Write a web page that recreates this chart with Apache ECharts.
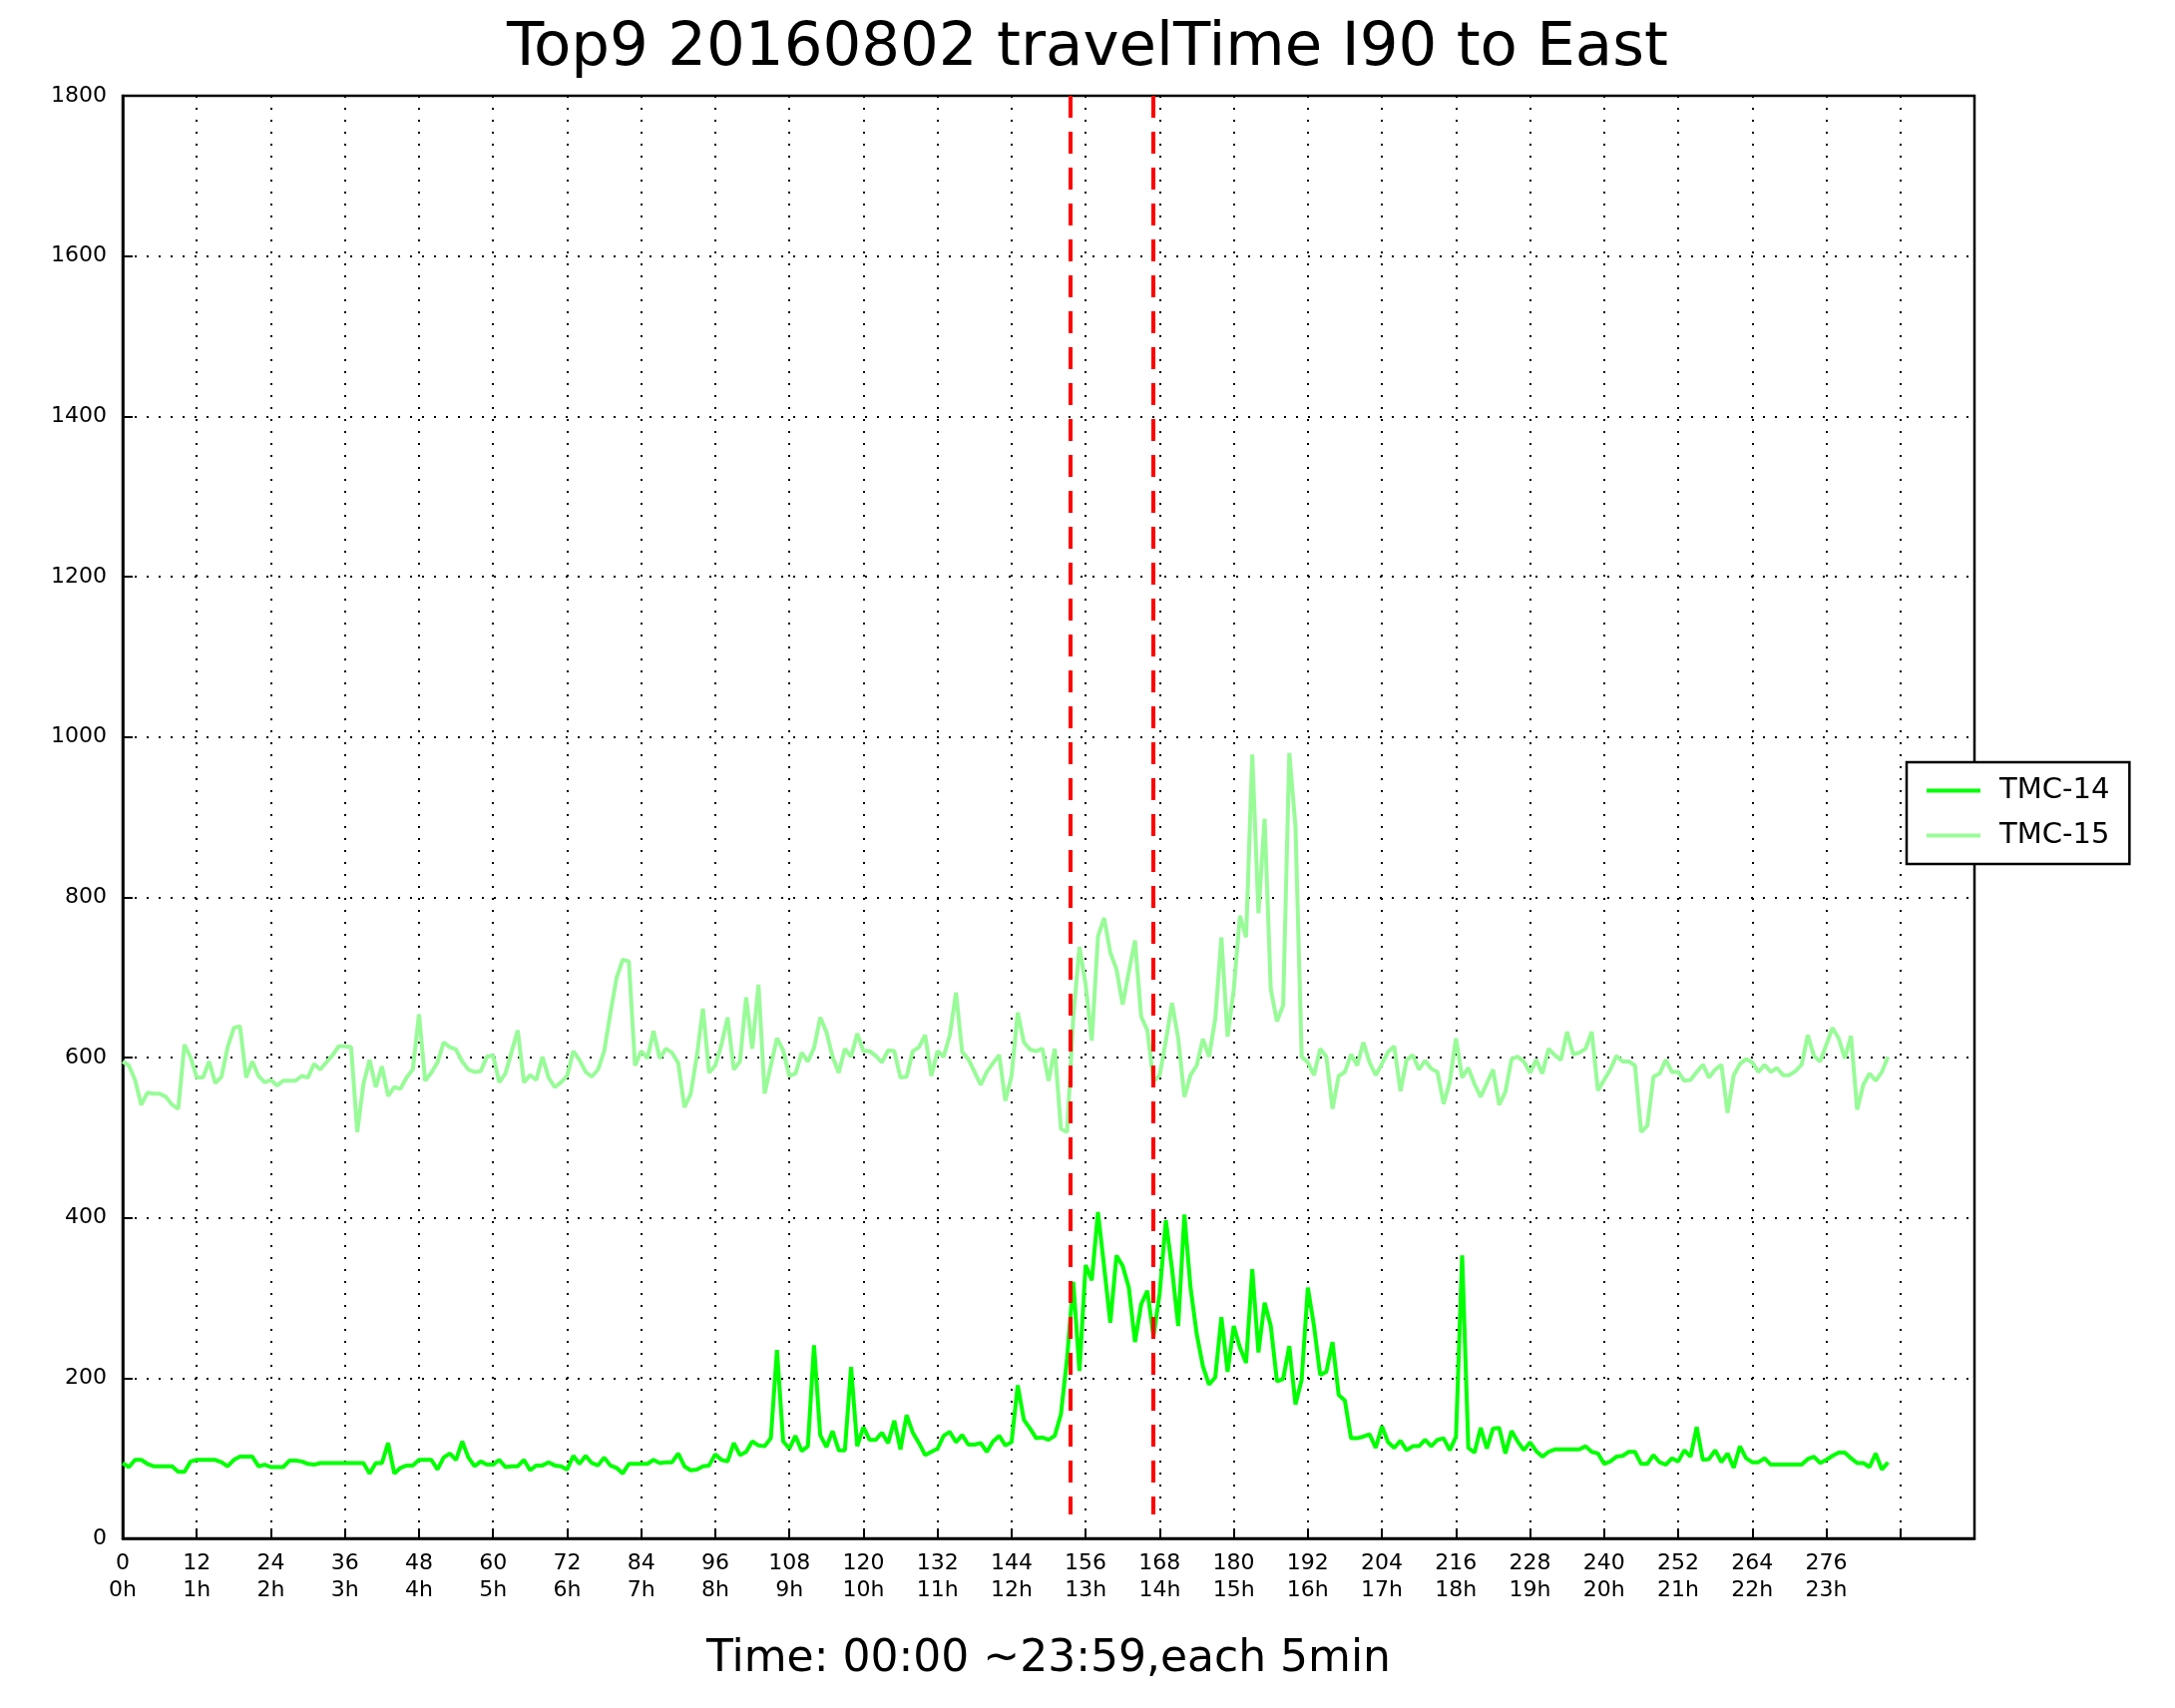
<!DOCTYPE html>
<html>
<head>
<meta charset="utf-8">
<script src="https://cdn.jsdelivr.net/npm/echarts@6/dist/echarts.min.js"></script>
<style>
html, body { margin: 0; padding: 0; background: #fff; }
#chart { width: 2180px; height: 1712px; }
</style>
</head>
<body>
<div id="chart"></div>
<script>
// 5-minute slots, travel time per slot
var tmc14 = [
	94,89,98,98,93,90,90,90,90,83,83,96,
	98,98,98,98,95,90,98,102,102,102,90,92,
	89,89,89,97,97,96,93,92,94,94,94,94,
	94,94,94,94,81,94,94,119,81,88,91,91,
	98,98,98,86,101,106,98,121,101,90,96,92,
	92,98,89,90,90,98,85,91,91,95,91,90,
	86,103,93,103,94,91,101,91,88,81,93,93,
	93,93,98,94,95,95,106,90,85,86,90,91,
	105,98,96,119,104,108,121,116,115,125,235,121,
	112,128,109,115,241,129,114,134,110,110,214,115,
	139,123,123,132,119,147,111,154,132,119,104,108,
	112,128,133,120,129,117,117,119,108,121,128,116,
	120,191,148,137,125,126,123,128,155,225,320,209,
	341,322,407,339,269,353,340,313,245,292,309,252,
	306,397,336,265,404,313,255,215,192,201,276,208,
	265,238,219,336,232,294,265,196,199,240,167,198,
	313,265,204,208,245,179,172,125,125,127,130,113,
	140,120,113,122,110,115,115,123,115,123,125,110,
	127,353,113,107,138,112,137,138,106,134,121,110,
	120,109,102,108,111,111,111,111,111,115,108,106,
	93,96,102,103,108,108,93,93,104,95,92,100,
	96,110,102,139,98,99,110,95,106,88,115,100,
	95,95,100,92,92,92,92,92,92,99,102,94,
	98,103,107,107,100,94,94,89,106,86,95
];
var tmc15 = [
	595,590,572,541,556,555,555,551,541,536,616,600,
	575,575,595,568,576,613,637,639,575,595,577,569,
	572,565,571,571,571,577,575,592,585,594,603,614,
	614,613,507,567,597,563,589,552,563,561,575,585,
	654,571,581,594,619,613,610,595,585,582,583,601,
	603,569,580,607,634,569,578,572,601,575,563,569,
	577,608,597,582,576,585,608,655,699,722,720,590,
	608,599,633,599,611,606,593,538,554,601,661,581,
	590,616,650,585,595,675,611,691,555,590,624,609,
	577,580,606,595,612,650,632,601,581,611,601,630,
	608,608,602,594,609,608,575,576,608,613,628,577,
	608,601,628,681,607,598,582,566,582,593,603,546,
	577,656,619,610,608,611,571,611,511,507,650,738,
	691,621,751,774,731,710,666,707,746,651,634,570,
	578,621,668,624,551,578,590,623,601,648,750,626,
	685,777,750,978,780,898,685,645,665,980,888,601,
	594,578,611,601,536,577,582,604,590,619,594,578,
	592,607,614,558,597,603,585,596,586,582,542,570,
	624,575,587,567,551,568,585,541,557,598,601,595,
	581,597,580,611,603,597,632,604,606,611,632,559,
	572,585,602,595,595,590,507,515,576,580,597,582,
	582,571,572,582,591,575,585,591,531,578,592,598,
	594,582,591,582,587,578,578,583,591,628,602,595,
	616,637,624,599,627,535,566,580,571,582,601
];
var xTicks = [0,12,24,36,48,60,72,84,96,108,120,132,144,156,168,180,192,204,216,228,240,252,264,276];
var yTicks = [0,200,400,600,800,1000,1200,1400,1600,1800];
var markX = [153.5, 167];

(function(){
	var font = 'DejaVu Sans';
	var pts14 = [], pts15 = [];
	for (var i = 0; i < tmc14.length; i++) pts14.push([i, tmc14[i]]);
	for (var j = 0; j < tmc15.length; j++) pts15.push([j, tmc15[j]]);

	var dash = [];
	for (var k = 0; k < markX.length; k++) {
		dash.push([{coord: [markX[k], 1800]}, {coord: [markX[k], 30]}]);
	}

	var axisLine = {show: true, lineStyle: {color: '#000', width: 2.5}};
	var tickIn = {show: true, inside: true, length: 10, lineStyle: {color: '#000', width: 2}};

	var chart = echarts.init(document.getElementById('chart'));
	chart.setOption({
		animation: false,
		backgroundColor: '#fff',
		title: {
			text: 'Top9 20160802 travelTime I90 to East',
			left: 'center', top: 14,
			textStyle: {fontFamily: font, fontSize: 61, fontWeight: 'normal', color: '#000'}
		},
		legend: {
			data: ['TMC-14', 'TMC-15'],
			orient: 'vertical',
			left: 1911, top: 764,
			width: 250,
			padding: [14, 20, 14, 20],
			itemGap: 16,
			itemWidth: 54, itemHeight: 4,
			borderColor: '#000', borderWidth: 2.5,
			backgroundColor: '#fff',
			icon: 'rect',
			textStyle: {fontFamily: font, fontSize: 29, color: '#000', padding: [0, 0, 0, 14]}
		},
		grid: {
			left: 123, right: 201, top: 96, bottom: 170, containLabel: false,
			show: true, borderColor: '#000', borderWidth: 2.5
		},
		xAxis: {
			type: 'value', min: 0, max: 300, interval: 12,
			axisLine: axisLine, axisTick: tickIn,
			axisLabel: {
				fontFamily: font, fontSize: 22, color: '#000', margin: 12, lineHeight: 27,
				formatter: function(v){ return xTicks.indexOf(v) >= 0 ? v + '\n' + (v / 12) + 'h' : ''; }
			},
			splitLine: {show: true, lineStyle: {color: '#000', type: [2, 10], width: 2}},
			name: 'Time: 00:00 ~23:59,each 5min',
			nameLocation: 'middle', nameGap: 100,
			nameTextStyle: {fontFamily: font, fontSize: 44, color: '#000'}
		},
		yAxis: {
			type: 'value', min: 0, max: 1800, interval: 200,
			axisLine: axisLine, axisTick: tickIn,
			axisLabel: {fontFamily: font, fontSize: 22, color: '#000', margin: 16,
				formatter: function(v){ return String(v); }},
			splitLine: {show: true, lineStyle: {color: '#000', type: [2, 10], width: 2}}
		},
		series: [{
			name: 'TMC-14', type: 'line', data: pts14, showSymbol: false,
			color: '#00ff00', lineStyle: {width: 4, color: '#00ff00'},
			markLine: {
				silent: true, symbol: 'none', label: {show: false},
				lineStyle: {color: '#ff0000', type: [22, 14], width: 4},
				data: dash
			}
		}, {
			name: 'TMC-15', type: 'line', data: pts15, showSymbol: false,
			color: '#98fb98', lineStyle: {width: 4, color: '#98fb98'}
		}]
	});
})();
</script>
</body>
</html>
